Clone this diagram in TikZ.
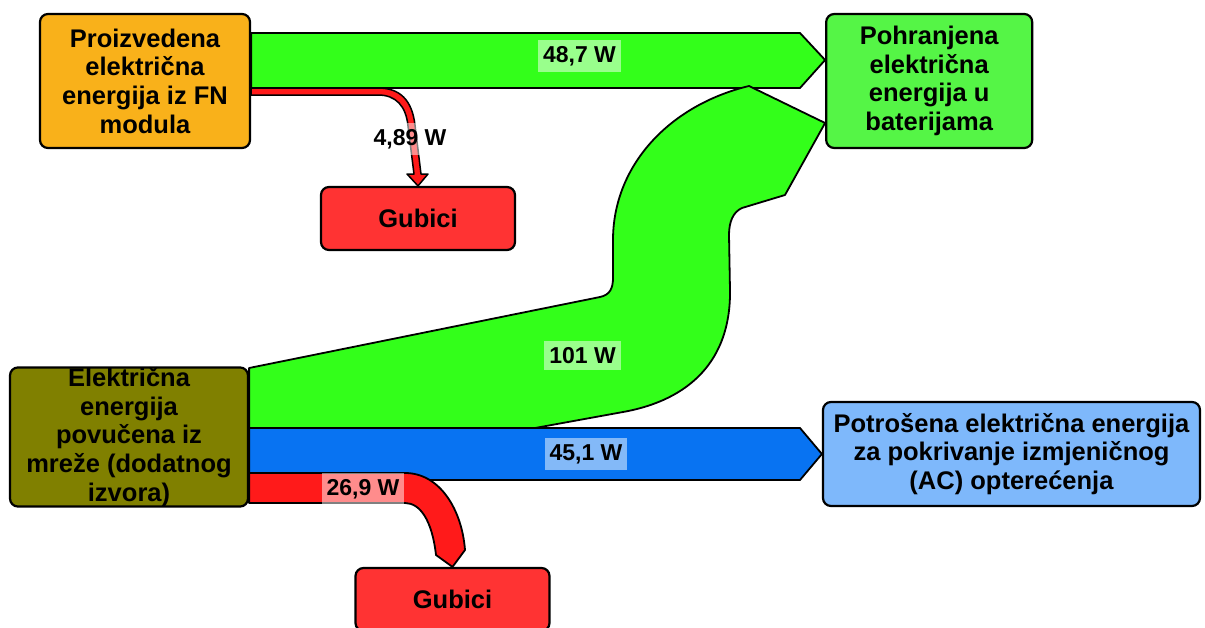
\documentclass[tikz,border=0pt]{standalone}
\usepackage{fontspec}
\setmainfont{Liberation Sans}
\usetikzlibrary{positioning}
\definecolor{pvorange}{RGB}{249,177,26}
\definecolor{battgreen}{RGB}{85,245,70}
\definecolor{gridolive}{RGB}{128,128,0}
\definecolor{loadblue}{RGB}{126,184,251}
\definecolor{lossred}{RGB}{255,51,51}
\definecolor{flowgreen}{RGB}{51,255,26}
\definecolor{flowblue}{RGB}{8,115,242}
\definecolor{flowred}{RGB}{255,26,26}
\pgfdeclarelayer{background}
\pgfsetlayers{background,main}
\tikzset{
  ebox/.style = {draw=black, line width=2.2pt, rounded corners=8pt, align=center, inner sep=0pt, text centered, font=\bfseries\fontsize{25.5}{28.7}\selectfont},
  lossbox/.style = {ebox, fill=lossred, minimum width=194pt, minimum height=63pt},
  flow/.style = {draw=black, line width=1.8pt, line join=round},
  flowlabel/.style = {fill=white, fill opacity=0.5, text opacity=1, inner xsep=5pt, inner ysep=6pt, font=\bfseries\fontsize{23}{26}\selectfont},
}

\begin{document}
\begin{tikzpicture}[x=1pt,y=-1pt]
\useasboundingbox (0,0) rectangle (1205,627);
\node [ebox, fill=pvorange, minimum width=210pt, minimum height=134pt] (PV) at (145,81) {Proizvedena\\električna\\energija iz FN\\modula};
\node [ebox, fill=battgreen, minimum width=206pt, minimum height=134pt, right=574pt of PV] (Batt) {Pohranjena\\električna\\energija u\\baterijama};
\node [lossbox] (Loss1) at (418,218.5) {Gubici};
\node [ebox, fill=gridolive, minimum width=238pt, minimum height=138pt] (Grid) at (129,437) {Električna\\energija\\povučena iz\\mreže (dodatnog\\izvora)};
\node [ebox, fill=loadblue, minimum width=377pt, minimum height=104pt] (Load) at (1011.5,454) {Potrošena električna energija\\za pokrivanje izmjeničnog\\(AC) opterećenja};
\node [lossbox] (Loss2) at (452.5,599.5) {Gubici};
\begin{pgfonlayer}{background}
% FN -> baterije
\draw [flow, fill=flowgreen] (PV.east |- 0,33) -- (800,33) -- (Batt.west |- 0,60) -- (800,88) -- (PV.east |- 0,88) -- cycle;
% FN -> gubici
\draw [flow, line width=1.5pt, fill=flowred] (PV.east |- 0,88) -- (378,88) .. controls (400,88) and (412,100) .. (415,125) -- (421,174) -- (428,174) -- (Loss1.north) -- (407,174) -- (414,174) -- (408,126) .. controls (406,106) and (396,95) .. (378,95) -- (PV.east |- 0,95) -- cycle;
% mreza -> baterije
\draw [flow, fill=flowgreen] (Grid.east |- 0,368) -- (600,297) .. controls (610,295) and (613,288) .. (613,278) -- (613,240) .. controls (613,165) and (670,105) .. (749,86) -- (Batt.west |- 0,123) -- (785,195) -- (742,208) .. controls (733,212) and (729,222) .. (729,235) -- (730,290) .. controls (731,360) and (690,400) .. (623,412) -- (535,428) -- (Grid.east |- 0,428) -- cycle;
% mreza -> AC
\draw [flow, fill=flowblue] (Grid.east |- 0,428) -- (800,428) -- (Load.west) -- (800,480) -- (Grid.east |- 0,480) -- cycle;
% mreza -> gubici
\draw [flow, fill=flowred] (Grid.east |- 0,473) -- (405,473) .. controls (440,473) and (462,510) .. (465,550) -- (Loss2.north) -- (436,555) .. controls (432,520) and (420,503) .. (405,503) -- (Grid.east |- 0,503) -- cycle;
\end{pgfonlayer}
\node [flowlabel] (l487) at (579.5,56) {48,7 W};
\node [flowlabel] (l489) at (410,139) {4,89 W};
\node [flowlabel] (l101) at (582.5,355.5) {101 W};
\node [flowlabel] (l451) at (586,454) {45,1 W};
\node [flowlabel] (l269) at (363,489) {26,9 W};
\end{tikzpicture}
\end{document}
